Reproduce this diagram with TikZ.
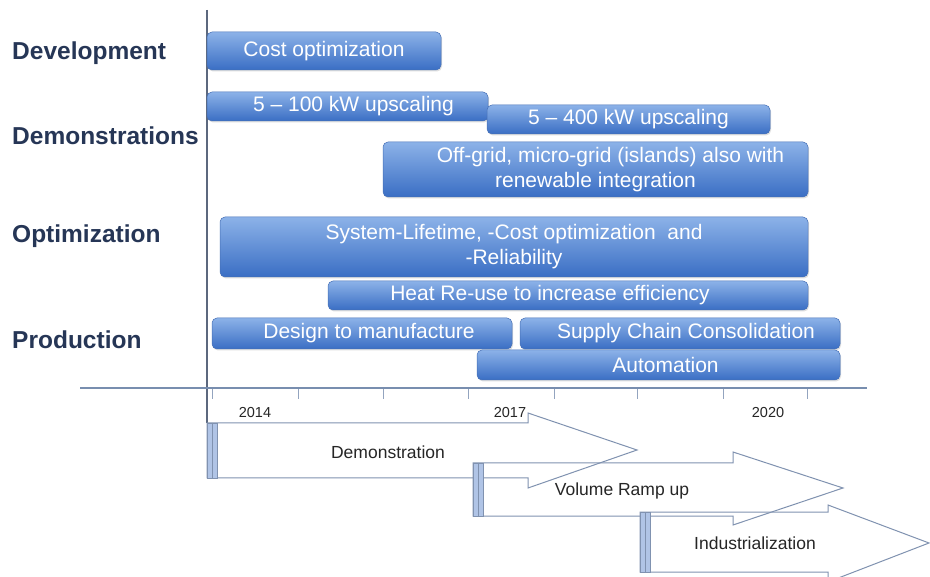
\documentclass[tikz,border=0pt]{standalone}
\usepackage{fontspec}
\setmainfont{Liberation Sans}
\usetikzlibrary{shadows}
\definecolor{barTop}{RGB}{140,178,232}
\definecolor{barBot}{RGB}{58,110,196}
\definecolor{barEdge}{RGB}{70,112,182}
\definecolor{catCol}{RGB}{38,54,86}
\definecolor{axisH}{RGB}{120,142,175}
\definecolor{axisV}{RGB}{92,104,126}
\definecolor{arrEdge}{RGB}{128,146,176}
\definecolor{arrBar}{RGB}{176,196,230}
\begin{document}
\begin{tikzpicture}[x=1pt,y=-1pt,
  bar/.style={draw=barEdge,line width=0.5pt,rounded corners=5pt,top color=barTop,bottom color=barBot,
    text=white,font=\fontsize{21}{25}\selectfont,align=center,inner sep=0pt,
    drop shadow={opacity=0.25,shadow xshift=1pt,shadow yshift=-1.5pt}},
  cat/.style={text=catCol,font=\bfseries\fontsize{24.5}{28}\selectfont,anchor=west,inner sep=0pt},
  year/.style={text=black!85,font=\fontsize{14.5}{16}\selectfont,inner sep=0pt},
  arrtxt/.style={text=black!85,font=\fontsize{17.5}{20}\selectfont,inner sep=0pt},
  arrline/.style={draw=arrEdge,line width=1pt,line join=miter},
  arrleft/.style={fill=arrBar,draw=arrEdge,line width=0.6pt}
]
\useasboundingbox (0,0) rectangle (930,577);
\fill[white] (0,0) rectangle (930,577);

% category labels
\node[cat] (dev) at (12,53) {Development};
\node[cat] (demo) at (12,136) {Demonstrations};
\node[cat] (opt) at (12,236) {Optimization};
\node[cat] (prod) at (12,340) {Production};

% axes
\draw[axisV,line width=1.6pt] (207,10) coordinate (vtop) -- (207,423) coordinate (vbot);
\draw[axisH,line width=2.5pt] (80,388) coordinate (hl) -- (867,388) coordinate (hr);
\foreach \t in {212,298,383,468,554,637,723,807}{
  \draw[axisH!80,line width=0.7pt] (\t,389) -- (\t,399);
}
\node[year] (y14) at (255,413) {2014};
\node[year] (y17) at (510,413) {2017};
\node[year] (y20) at (768,413) {2020};

% bars
\node[bar,minimum width=234pt,minimum height=38pt] (b1) at (324,51) {Cost optimization};
\node[bar,minimum width=281pt,minimum height=29pt] (b2) at (347.5,106.5) {\hspace*{12pt}5 -- 100 kW upscaling};
\node[bar,minimum width=283pt,minimum height=29pt] (b3) at (628.5,119.5) {5 -- 400 kW upscaling};
\node[bar,minimum width=425pt,minimum height=55pt] (b4) at (595.5,169.5) {\hspace*{30pt}Off-grid, micro-grid (islands) also with\\renewable integration};
\node[bar,minimum width=588pt,minimum height=60pt] (b5) at (514,247) {System-Lifetime, -Cost optimization~~and\\-Reliability};
\node[bar,minimum width=480pt,minimum height=29pt] (b6) at (568,295.5) {Heat Re-use to increase efficiency\hspace*{36pt}};
\node[bar,minimum width=300pt,minimum height=31pt] (b7) at (362,333.5) {\hspace*{14pt}Design to manufacture};
\node[bar,minimum width=320pt,minimum height=31pt] (b8) at (680,333.5) {\hspace*{12pt}Supply Chain Consolidation};
\node[bar,minimum width=363pt,minimum height=30pt] (b9) at (658.5,365) {\hspace*{14pt}Automation};

% bottom phase arrows
\draw[arrline] (207,423) -- (528,423) -- (528,413) -- (637,450) -- (528,488) -- (528,478) -- (207,478) -- cycle;
\draw[arrleft] (207,423) rectangle (217,478);
\draw[arrEdge,line width=0.6pt] (212,423) -- (212,478);

\draw[arrline] (473,463) -- (733,463) -- (733,452) -- (843,488) -- (733,525) -- (733,516) -- (473,516) -- cycle;
\draw[arrleft] (473,463) rectangle (483,516);
\draw[arrEdge,line width=0.6pt] (478,463) -- (478,516);

\draw[arrline] (640,512) -- (828,512) -- (828,505) -- (929,543) -- (828,582) -- (828,572) -- (640,572) -- cycle;
\draw[arrleft] (640,512) rectangle (650,572);
\draw[arrEdge,line width=0.6pt] (645,512) -- (645,572);

\node[arrtxt] (t1) at (388,452) {Demonstration};
\node[arrtxt] (t2) at (622,491) {Volume Ramp up};
\node[arrtxt] (t3) at (755,543) {Industrialization};
\end{tikzpicture}
\end{document}
